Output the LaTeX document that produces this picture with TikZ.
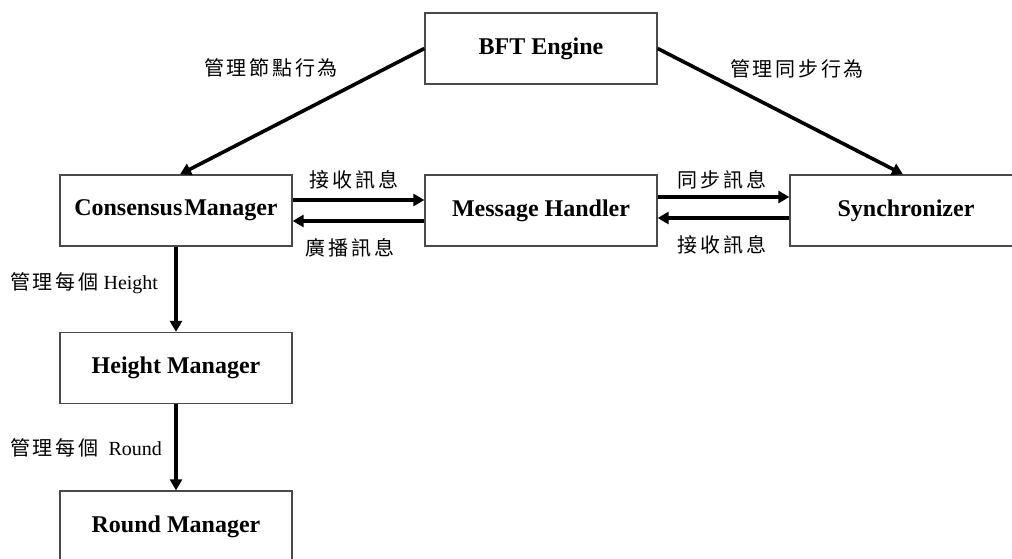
\documentclass[tikz,border=0pt]{standalone}
\usepackage{fontspec}
\setmainfont{Liberation Serif}
\newfontfamily\cjk{Noto Sans CJK TC}[LetterSpace=14]
\usetikzlibrary{arrows.meta}
\definecolor{boxline}{HTML}{4A4A4A}
\tikzset{
  module/.style={draw=boxline, line width=1.3pt, fill=white,
    minimum width=232pt, minimum height=71pt, inner sep=0pt,
    font=\fontsize{24}{28}\selectfont\bfseries},
  flow/.style={line width=3.6pt, -{Triangle[length=11pt,width=12pt]}},
  note/.style={inner sep=0pt, font=\fontsize{20}{24}\selectfont},
}
\begin{document}
\begin{tikzpicture}[x=1pt, y=-1pt]
  \useasboundingbox (0,0) rectangle (1012,559);
  \clip (0,0) rectangle (1012,559);

  % modules
  \node[module] (bft)  at (541,48.5)  {BFT Engine};
  \node[module] (cm)   at (176,210.5) {Consensus\hspace{2pt}Manager};
  \node[module] (mh)   at (541,210.5) {Message Handler};
  \node[module] (sync) at (906,210.5) {Synchronizer};
  \node[module] (hm)   at (176,368)   {Height Manager};
  \node[module] (rm)   at (176,526.5) {Round Manager};

  % engine controls node and sync behaviour
  \draw[flow] (bft.west) -- ([xshift=4pt]cm.north);
  \draw[flow] (bft.east) -- ([xshift=-3pt]sync.north);

  % message exchange (yshift is measured upward on the page)
  \draw[flow] ([yshift=10.5pt]cm.east) -- ([yshift=10.5pt]mh.west);
  \draw[flow] ([yshift=-10.5pt]mh.west) -- ([yshift=-10.5pt]cm.east);
  \draw[flow] ([yshift=13.5pt]mh.east) -- ([yshift=13.5pt]sync.west);
  \draw[flow] ([yshift=-7.5pt]sync.west) -- ([yshift=-7.5pt]mh.east);

  % hierarchy
  \draw[flow] (cm.south) -- (hm.north);
  \draw[flow] (hm.south) -- (rm.north);

  % labels
  \node[note] (l1) at (271,68)  {\cjk 管理節點行為};
  \node[note] (l2) at (797,69)  {\cjk 管理同步行為};
  \node[note] (l3) at (354,180) {\cjk 接收訊息};
  \node[note] (l4) at (350,248) {\cjk 廣播訊息};
  \node[note] (l5) at (722,180) {\cjk 同步訊息};
  \node[note] (l6) at (722,245) {\cjk 接收訊息};
  \node[note, anchor=west] (l7) at (10,283) {{\cjk 管理每個} Height};
  \node[note, anchor=west] (l8) at (10,448) {{\cjk 管理每個}\hspace{10pt}Round};
\end{tikzpicture}
\end{document}
